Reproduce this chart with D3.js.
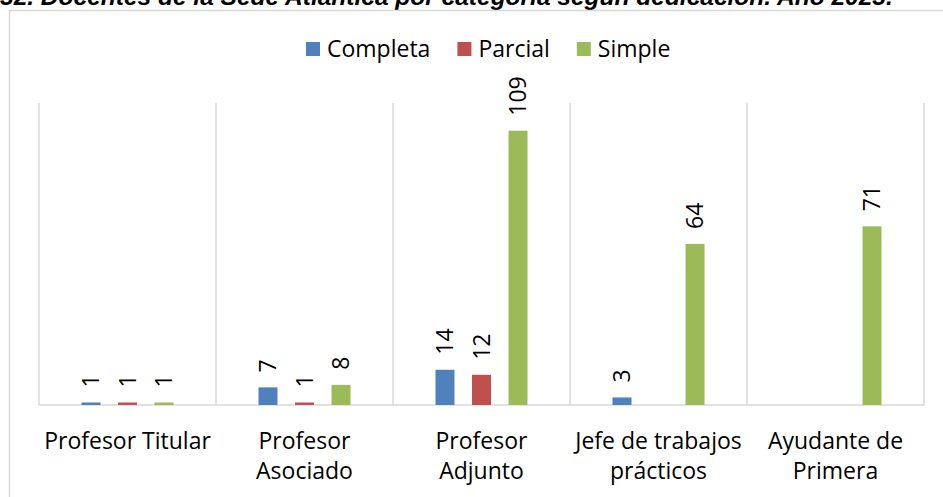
<!DOCTYPE html>
<html><head><meta charset="utf-8">
<script src="https://cdn.jsdelivr.net/npm/d3@7"></script>
<style>
html,body{margin:0;padding:0;background:#fff;}
svg{display:block;font-family:"Open Sans",sans-serif;}
</style></head>
<body>
<svg id="chart" width="943" height="497"></svg>
<script>
const title = "32. Docentes de la Sede Atlántica por categoría según dedicación. Año 2023.";
const categories = ["Profesor Titular", "Profesor Asociado", "Profesor Adjunto", "Jefe de trabajos prácticos", "Ayudante de Primera"];
const categoryLines = [["Profesor Titular"], ["Profesor", "Asociado"], ["Profesor", "Adjunto"], ["Jefe de trabajos", "prácticos"], ["Ayudante de", "Primera"]];
const seriesNames = ["Completa", "Parcial", "Simple"];
const completa = [1, 7, 14, 3, null];
const parcial = [1, 1, 12, null, null];
const simple = [1, 8, 109, 64, 71];
const colors = ["#4f81bd", "#c0504d", "#9bbb59"];
const yMax = 120;

const svg = d3.select("#chart");
const plot = {left: 39, right: 924, top: 103, bottom: 405};

// title (cut off at top, as in the reference)
svg.append("text").attr("x", 0).attr("y", 5)
  .attr("font-family", "Liberation Sans, Arial, sans-serif")
  .attr("font-weight", "bold").attr("font-style", "italic")
  .attr("font-size", 24.5).attr("fill", "#000").text(title);

// chart area border
svg.append("rect").attr("x", 9.5).attr("y", 10.5).attr("width", 1000).attr("height", 600)
  .attr("fill", "none").attr("stroke", "#d9d9d9").attr("stroke-width", 1.5);

const x0 = d3.scaleBand().domain(categories).range([plot.left, plot.right]).paddingInner(0).paddingOuter(0);
const x1 = d3.scaleBand().domain(seriesNames).range([0, x0.bandwidth()]).paddingInner(0.48).paddingOuter(1.164);
const y = d3.scaleLinear().domain([0, yMax]).range([plot.bottom, plot.top]);

// vertical category separators
const bounds = categories.map(c => x0(c)).concat([plot.right]);
svg.append("g").selectAll("line").data(bounds).join("line")
  .attr("x1", d => d).attr("x2", d => d)
  .attr("y1", y(yMax)).attr("y2", y(0))
  .attr("stroke", "#d9d9d9").attr("stroke-width", 1.5);
// baseline
svg.append("line").attr("x1", plot.left).attr("x2", plot.right)
  .attr("y1", y(0)).attr("y2", y(0)).attr("stroke", "#d9d9d9").attr("stroke-width", 1.5);

const seriesVals = [completa, parcial, simple];
const data = [];
categories.forEach((c, i) => seriesNames.forEach((s, j) => {
  const v = seriesVals[j][i];
  if (v != null) data.push({c, s, v, j});
}));

svg.append("g").selectAll("rect").data(data).join("rect")
  .attr("x", d => x0(d.c) + x1(d.s))
  .attr("width", x1.bandwidth())
  .attr("y", d => y(d.v))
  .attr("height", d => y(0) - y(d.v))
  .attr("fill", d => colors[d.j]);

svg.append("g").selectAll("text").data(data).join("text")
  .attr("transform", d => `translate(${x0(d.c) + x1(d.s) + x1.bandwidth() / 2},${y(d.v) - 15}) rotate(-90)`)
  .attr("dy", "0.36em")
  .attr("text-anchor", "start")
  .attr("font-size", 23).attr("fill", "#000")
  .text(d => d.v);

// category labels
const lab = svg.append("g");
categories.forEach((c, i) => {
  const cx = x0(c) + x0.bandwidth() / 2;
  const t = lab.append("text").attr("text-anchor", "middle").attr("font-size", 23).attr("fill", "#000");
  categoryLines[i].forEach((ln, k) => {
    t.append("tspan").attr("x", cx).attr("y", 449 + k * 30).text(ln);
  });
});

// legend
const leg = svg.append("g");
let lx = 306;
seriesNames.forEach((s, j) => {
  leg.append("rect").attr("x", lx).attr("y", 42).attr("width", 14).attr("height", 14).attr("fill", colors[j]);
  const t = leg.append("text").attr("x", lx + 21).attr("y", 57).attr("font-size", 23).attr("fill", "#000").text(s);
  lx += 21 + t.node().getComputedTextLength() + 27;
});
</script>
</body></html>
